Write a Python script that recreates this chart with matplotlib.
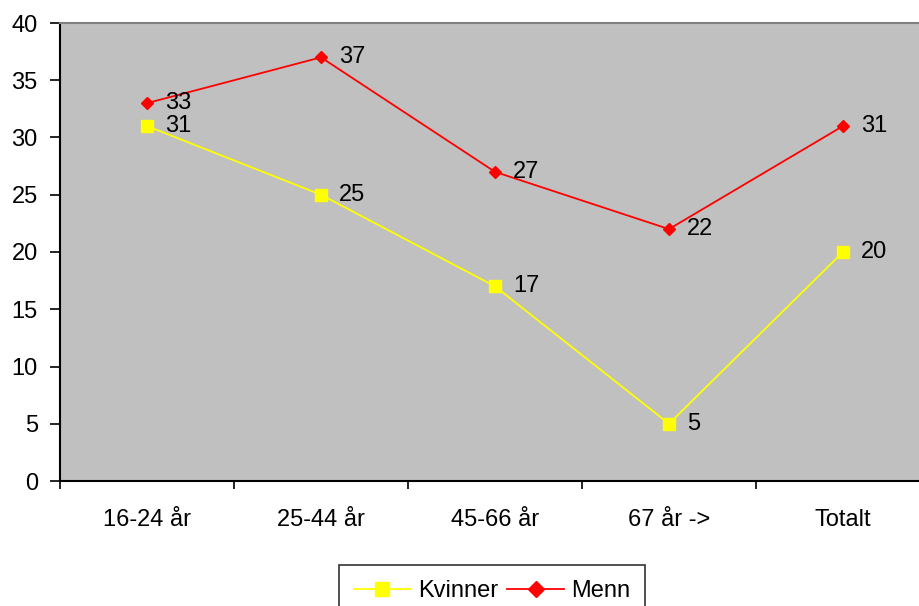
import matplotlib.pyplot as plt

plt.rcParams['font.family'] = ['Liberation Sans', 'DejaVu Sans']

# Share by age group (%)
categories = ['16-24 år', '25-44 år', '45-66 år', '67 år ->', 'Totalt']
kvinner = [31, 25, 17, 5, 20]
menn = [33, 37, 27, 22, 31]

fs = 17

fig = plt.figure(figsize=(9.19, 6.06), dpi=100)
# plot area runs slightly past the right edge of the figure
ax = fig.add_axes([60 / 919, 1 - 481 / 606, 870 / 919, 458 / 606])
ax.set_facecolor('#C0C0C0')

x = list(range(len(categories)))
ax.plot(x, kvinner, color='#FFFF00', lw=1.3, marker='s', ms=8,
        mec='#FFFF00', label='Kvinner', zorder=3)
ax.plot(x, menn, color='#FF0000', lw=1.3, marker='D', ms=6.5,
        mec='#FF0000', label='Menn', zorder=3)

for xi, v in zip(x, kvinner):
    ax.annotate(str(v), (xi, v), xytext=(13, 0), textcoords='offset points',
                va='center', ha='left', fontsize=fs)
for xi, v in zip(x, menn):
    ax.annotate(str(v), (xi, v), xytext=(13, 0), textcoords='offset points',
                va='center', ha='left', fontsize=fs)

ax.set_xlim(-0.5, len(categories) - 0.5)
ax.set_ylim(0, 40)
ax.set_yticks(range(0, 41, 5))
ax.tick_params(axis='y', labelsize=fs, length=7, width=1.2, direction='out', pad=9)

# tick marks between categories, labels at category centres
ax.set_xticks([i - 0.5 for i in range(len(categories) + 1)])
ax.set_xticklabels([])
ax.set_xticks(x, minor=True)
ax.set_xticklabels(categories, minor=True)
ax.tick_params(axis='x', which='major', length=6, width=1.2, direction='out')
ax.tick_params(axis='x', which='minor', length=0, labelsize=fs, pad=20)

for side in ['left', 'bottom']:
    ax.spines[side].set_color('black')
    ax.spines[side].set_linewidth(1.5)
ax.spines['top'].set_color('#808080')
ax.spines['top'].set_linewidth(1.5)
ax.spines['right'].set_visible(False)

leg = fig.legend(loc='upper center', bbox_to_anchor=(492 / 919, 1 - 565 / 606),
                 ncol=2, fontsize=fs, frameon=True, fancybox=False,
                 edgecolor='black', handlelength=2.4, columnspacing=0.4,
                 handletextpad=0.3, borderpad=0.65, borderaxespad=0,
                 markerscale=1.2)
leg.get_frame().set_linewidth(1.2)

plt.savefig('out.png', dpi=100)
